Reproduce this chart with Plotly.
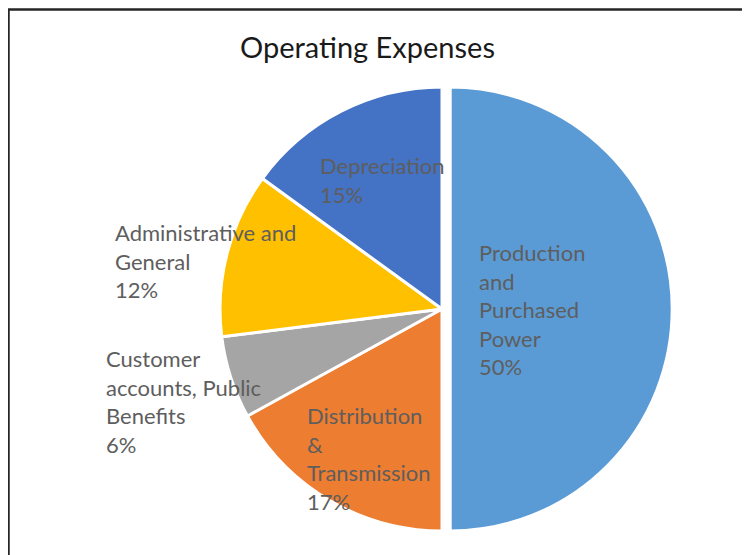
import plotly.graph_objects as go

# ---- data ----
categories = ["Production and Purchased Power", "Distribution & Transmission",
              "Customer accounts, Public Benefits", "Administrative and General",
              "Depreciation"]
values = [50, 17, 6, 12, 15]
label_lines = [["Production", "and", "Purchased", "Power"],
               ["Distribution", "&", "Transmission"],
               ["Customer", "accounts, Public", "Benefits"],
               ["Administrative and", "General"],
               ["Depreciation"]]
colors = ["#5B9BD5", "#ED7D31", "#A5A5A5", "#FFC000", "#4472C4"]
pulls = [0.037, 0, 0, 0, 0]
title = "Operating Expenses"

W, H = 750, 555
OFF = 8  # page body margin offset
# label anchor positions (window pixels, left edge / vertical centre of block)
label_pos = [(477, 309), (305, 458), (104, 401), (113, 261), (318, 180)]


def px_x(x):
    return (x - OFF) / W


def px_y(y):
    return 1 - (y - OFF) / H


fig = go.Figure(go.Pie(
    labels=categories, values=values, sort=False, direction="clockwise",
    rotation=0, pull=pulls, textinfo="none", hoverinfo="label+percent",
    marker=dict(colors=colors, line=dict(color="white", width=3)),
    domain=dict(x=[px_x(211.8), px_x(672.2)], y=[px_y(539.2), px_y(78.8)]),
    showlegend=False,
))

total = sum(values)
font_lbl = dict(family="Lato, 'Liberation Sans', sans-serif", size=22, color="#5E5E5E")
for lines, v, (px, py) in zip(label_lines, values, label_pos):
    pct = round(100 * v / total)
    txt = "<br>".join(lines + [f"{pct}%"])
    fig.add_annotation(text=txt, x=px_x(px), y=px_y(py), xref="paper", yref="paper",
                       xanchor="left", yanchor="middle", align="left",
                       showarrow=False, font=font_lbl)

fig.add_annotation(text=title, x=px_x(367.5), y=px_y(47), xref="paper", yref="paper",
                   xanchor="center", yanchor="middle", showarrow=False,
                   font=dict(family="Lato, 'Liberation Sans', sans-serif", size=29, color="#1A1A1A"))

# chart frame (cropped on right/bottom in the reference)
fig.add_shape(type="rect", xref="paper", yref="paper",
              x0=px_x(8.5), y0=-0.2, x1=1.2, y1=px_y(9.5),
              line=dict(color="#262626", width=2.5))

fig.update_layout(width=W, height=H, margin=dict(l=0, r=0, t=0, b=0),
                  paper_bgcolor="white", plot_bgcolor="white")
fig.write_html("out.html")
